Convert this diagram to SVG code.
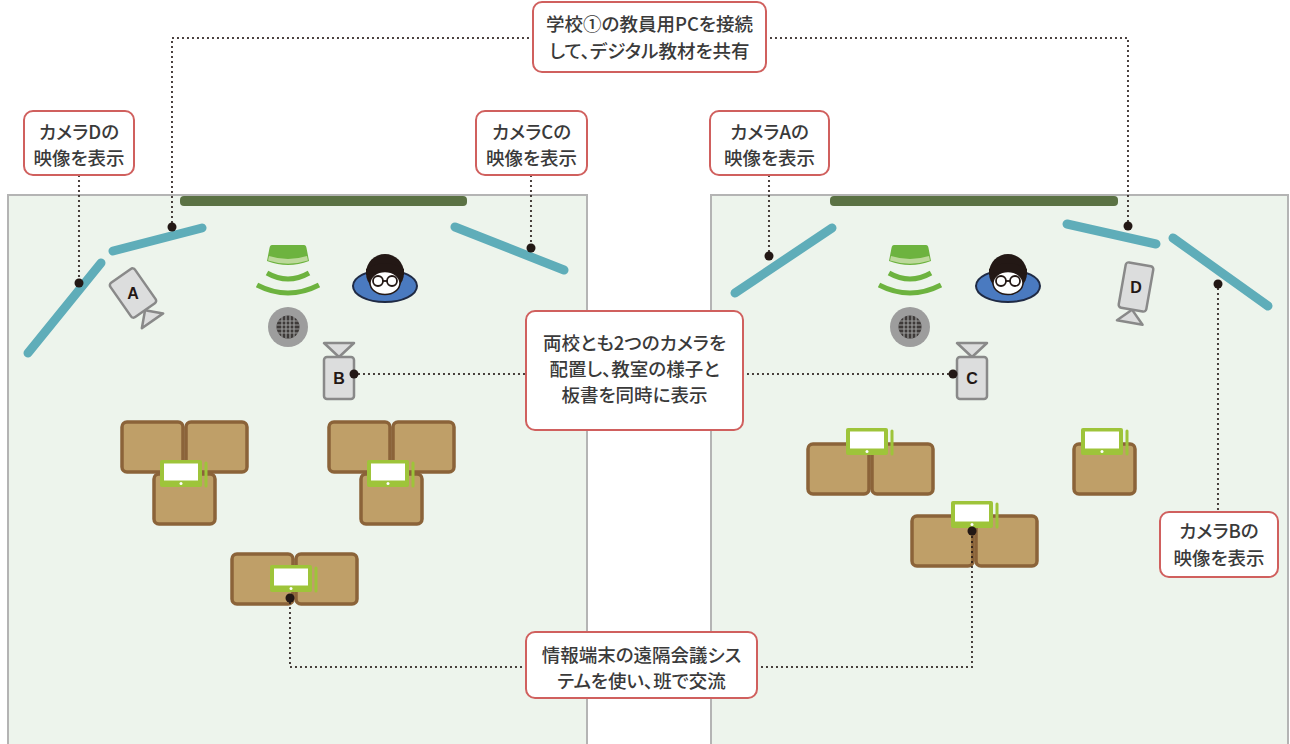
<svg xmlns="http://www.w3.org/2000/svg" width="1290" height="744" viewBox="0 0 1290 744">
  <defs>
    <style>
      .room { fill: #edf4ec; stroke: #b4b4b4; stroke-width: 2; }
      .board { fill: #5b7244; }
      .screen { fill: none; stroke: #5fadb9; stroke-width: 9; stroke-linecap: round; }
      .label { fill: #ffffff; stroke: #d0605e; stroke-width: 2; }
      .txt { font-family: "Noto Sans CJK JP", "Noto Sans", sans-serif; font-size: 18.5px; font-weight: 500; fill: #3a3a3a; text-anchor: middle; font-feature-settings: "palt"; }
      .dots { fill: none; stroke: #231815; stroke-width: 2.2; stroke-dasharray: 0 5; stroke-linecap: round; }
      .pin { fill: #231815; }
      .desk { fill: #bf9f68; stroke: #8b6339; stroke-width: 3.5; }
      .cam { fill: #dcdddd; stroke: #898989; stroke-width: 2.5; stroke-linejoin: round; }
      .camtxt { font-family: "Liberation Sans", Arial, sans-serif; font-size: 16px; font-weight: 700; fill: #231815; text-anchor: middle; }
      .wave { fill: none; stroke: #6db33f; stroke-width: 5; }
    </style>
    <!-- tablet with stylus, origin at top-left of frame -->
    <g id="tablet">
      <rect x="0" y="0" width="42" height="27" rx="2" fill="#9ec43a"/>
      <rect x="4" y="3.5" width="34" height="17" fill="#ffffff"/>
      <circle cx="21" cy="23.5" r="1.5" fill="#ffffff"/>
      <path d="M46,3 L46,26" stroke="#9ec43a" stroke-width="3" stroke-linecap="round"/>
    </g>
    <!-- green speaker with sound waves, centred on x=0 -->
    <g id="speaker">
      <path d="M-16,0 L16,0 Q18,0 18.5,3 L21,16 Q0,24 -21,16 L-18.5,3 Q-18,0 -16,0 Z" fill="#6db33f"/>
      <path d="M-19,11 Q0,17 19,11 L20,15.5 Q0,22 -20,15.5 Z" fill="#bcd99a"/>
      <path class="wave" d="M-21,28 Q0,40 21,28"/>
      <path class="wave" d="M-31,40 Q0,56 31,40"/>
    </g>
    <!-- microphone, centred on origin -->
    <g id="mic">
      <circle r="20" fill="#9d9d9d"/>
      <circle r="11.5" fill="#3e3a39"/>
      <g stroke="#9a9a9a" stroke-width="1.2">
        <path d="M-6,-10 V10 M-2,-11.5 V11.5 M2,-11.5 V11.5 M6,-10 V10"/>
        <path d="M-10,-6 H10 M-11.5,-2 H11.5 M-11.5,2 H11.5 M-10,6 H10"/>
      </g>
    </g>
    <!-- teacher seen from above, centred on origin -->
    <g id="teacher">
      <ellipse cx="0" cy="7" rx="32" ry="16" fill="#4a7ac0" stroke="#1f2a44" stroke-width="2"/>
      <circle cx="0" cy="-6" r="19" fill="#231815"/>
      <ellipse cx="0" cy="4" rx="15" ry="11.5" fill="#ffffff" stroke="#231815" stroke-width="1.5"/>
      <path d="M-19,-4 Q0,-12 19,-4 L19,-10 Q0,-22 -19,-10 Z" fill="#231815"/>
      <circle cx="-7" cy="2" r="5" fill="none" stroke="#231815" stroke-width="1.8"/>
      <circle cx="7" cy="2" r="5" fill="none" stroke="#231815" stroke-width="1.8"/>
      <path d="M-2,2 H2" stroke="#231815" stroke-width="1.8"/>
    </g>
    <!-- camera with mount at the top, centred on the body -->
    <g id="camUp">
      <path class="cam" d="M-15,-35 L15,-35 L0,-21 Z"/>
      <rect class="cam" x="-15" y="-21" width="30" height="42" rx="3"/>
    </g>
  </defs>

  <!-- classrooms -->
  <g id="room-left">
    <rect class="room" x="8" y="195" width="579" height="570"/>
    <rect class="board" x="180" y="196" width="287" height="10" rx="4"/>
    <line class="screen" x1="28" y1="353" x2="101" y2="263"/>
    <line class="screen" x1="113" y1="251" x2="202" y2="228"/>
    <line class="screen" x1="455" y1="227" x2="564" y2="270"/>
  </g>
  <g id="room-right">
    <rect class="room" x="711" y="195" width="577" height="570"/>
    <rect class="board" x="830" y="196" width="288" height="10" rx="4"/>
    <line class="screen" x1="735" y1="293" x2="832" y2="228"/>
    <line class="screen" x1="1067" y1="224" x2="1156" y2="244"/>
    <line class="screen" x1="1173" y1="238" x2="1268" y2="306"/>
  </g>

  <!-- speakers, microphones, teachers -->
  <g id="speaker-left"><use href="#speaker" x="288" y="245"/><use href="#mic" x="288" y="327"/></g>
  <g id="speaker-right"><use href="#speaker" x="910" y="245"/><use href="#mic" x="910" y="327"/></g>
  <g id="teacher-left"><use href="#teacher" x="385" y="279"/></g>
  <g id="teacher-right"><use href="#teacher" x="1008" y="279"/></g>

  <!-- cameras -->
  <g id="camera-a" transform="translate(133,293) rotate(-35)">
    <path class="cam" d="M0,21 L-13,34 L13,34 Z"/>
    <rect class="cam" x="-15" y="-21" width="30" height="42" rx="3"/>
    <text class="camtxt" x="0" y="6" transform="rotate(35)">A</text>
  </g>
  <g id="camera-b">
    <use href="#camUp" x="339" y="378"/>
    <text class="camtxt" x="339" y="384">B</text>
  </g>
  <g id="camera-c">
    <use href="#camUp" x="972" y="378"/>
    <text class="camtxt" x="972" y="384">C</text>
  </g>
  <g id="camera-d" transform="translate(1136,287) rotate(10)">
    <path class="cam" d="M0,23 L-13,36 L13,36 Z"/>
    <rect class="cam" x="-14" y="-23" width="28" height="46" rx="3"/>
    <text class="camtxt" x="0" y="6" transform="rotate(-10)">D</text>
  </g>

  <!-- desk groups -->
  <g id="desks-left-1">
    <rect class="desk" x="122" y="422" width="61" height="50" rx="5"/>
    <rect class="desk" x="186" y="422" width="61" height="50" rx="5"/>
    <rect class="desk" x="154" y="474" width="61" height="50" rx="5"/>
    <use href="#tablet" x="160" y="460"/>
  </g>
  <g id="desks-left-2">
    <rect class="desk" x="329" y="422" width="61" height="50" rx="5"/>
    <rect class="desk" x="393" y="422" width="61" height="50" rx="5"/>
    <rect class="desk" x="361" y="474" width="61" height="50" rx="5"/>
    <use href="#tablet" x="367" y="460"/>
  </g>
  <g id="desks-left-3">
    <rect class="desk" x="232" y="554" width="61" height="50" rx="5"/>
    <rect class="desk" x="296" y="554" width="61" height="50" rx="5"/>
    <use href="#tablet" x="270" y="565"/>
  </g>
  <g id="desks-right-1">
    <rect class="desk" x="808" y="444" width="61" height="50" rx="5"/>
    <rect class="desk" x="872" y="444" width="61" height="50" rx="5"/>
    <use href="#tablet" x="846" y="428"/>
  </g>
  <g id="desks-right-2">
    <rect class="desk" x="912" y="516" width="61" height="50" rx="5"/>
    <rect class="desk" x="976" y="516" width="61" height="50" rx="5"/>
    <use href="#tablet" x="951" y="501"/>
  </g>
  <g id="desks-right-3">
    <rect class="desk" x="1074" y="444" width="61" height="50" rx="5"/>
    <use href="#tablet" x="1081" y="428"/>
  </g>

  <!-- dotted leader lines -->
  <g id="connectors">
    <path class="dots" d="M172,227 V38 H533"/>
    <path class="dots" d="M766,38 H1128 V226"/>
    <path class="dots" d="M79,176 V283"/>
    <path class="dots" d="M531,176 V248"/>
    <path class="dots" d="M769,176 V256"/>
    <path class="dots" d="M1218,284 V512"/>
    <path class="dots" d="M354,374 H526"/>
    <path class="dots" d="M743,374 H953"/>
    <path class="dots" d="M290,598 V667 H526"/>
    <path class="dots" d="M757,667 H972 V531"/>
    <circle class="pin" cx="172" cy="227" r="4.5"/>
    <circle class="pin" cx="1128" cy="226" r="4.5"/>
    <circle class="pin" cx="79" cy="283" r="4.5"/>
    <circle class="pin" cx="531" cy="248" r="4.5"/>
    <circle class="pin" cx="769" cy="256" r="4.5"/>
    <circle class="pin" cx="1218" cy="284" r="4.5"/>
    <circle class="pin" cx="354" cy="374" r="4.5"/>
    <circle class="pin" cx="953" cy="374" r="4.5"/>
    <circle class="pin" cx="290" cy="598" r="4.5"/>
    <circle class="pin" cx="972" cy="531" r="4.5"/>
  </g>

  <!-- callouts -->
  <g id="note-pc">
    <rect class="label" x="533" y="2" width="233" height="70" rx="9"/>
    <text class="txt" x="649.5" y="31">学校①の教員用PCを接続</text>
    <text class="txt" x="649.5" y="58">して、デジタル教材を共有</text>
  </g>
  <g id="note-cam-d">
    <rect class="label" x="24" y="111" width="110" height="64" rx="9"/>
    <text class="txt" x="79" y="139">カメラDの</text>
    <text class="txt" x="79" y="165">映像を表示</text>
  </g>
  <g id="note-cam-c">
    <rect class="label" x="476" y="111" width="111" height="64" rx="9"/>
    <text class="txt" x="531.5" y="139">カメラCの</text>
    <text class="txt" x="531.5" y="165">映像を表示</text>
  </g>
  <g id="note-cam-a">
    <rect class="label" x="710" y="111" width="119" height="64" rx="9"/>
    <text class="txt" x="769.5" y="139">カメラAの</text>
    <text class="txt" x="769.5" y="165">映像を表示</text>
  </g>
  <g id="note-cam-b">
    <rect class="label" x="1160" y="512" width="118" height="65" rx="9"/>
    <text class="txt" x="1219" y="538">カメラBの</text>
    <text class="txt" x="1219" y="565">映像を表示</text>
  </g>
  <g id="note-cameras">
    <rect class="label" x="526" y="311" width="217" height="119" rx="9"/>
    <text class="txt" x="634.5" y="350">両校とも2つのカメラを</text>
    <text class="txt" x="634.5" y="376">配置し、教室の様子と</text>
    <text class="txt" x="634.5" y="402">板書を同時に表示</text>
  </g>
  <g id="note-tablets">
    <rect class="label" x="526" y="632" width="231" height="66" rx="9"/>
    <text class="txt" x="641.5" y="662">情報端末の遠隔会議シス</text>
    <text class="txt" x="641.5" y="688">テムを使い、班で交流</text>
  </g>
</svg>
